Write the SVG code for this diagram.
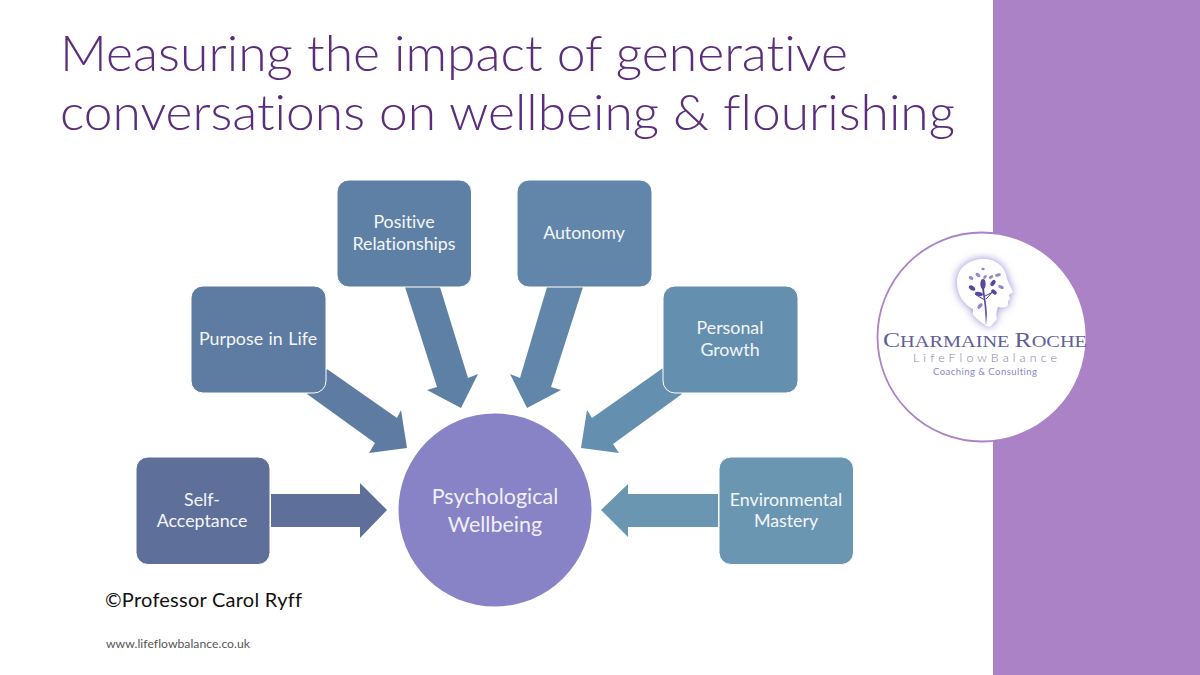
<svg xmlns="http://www.w3.org/2000/svg" width="1200" height="675" viewBox="0 0 1200 675">
<defs>
<style>
text{font-variant-ligatures:none}
.t{font-family:Lato,"Open Sans",sans-serif;font-weight:300;font-size:50px;fill:#5b2e7c}
.n{font-family:Lato,"Open Sans",sans-serif;font-size:17.800px;fill:#f4f6fb;text-anchor:middle}
.c{font-family:Lato,"Open Sans",sans-serif;font-size:21.500px;fill:#f0effa;text-anchor:middle}
.box{stroke:#fff;stroke-width:1}
.dk{fill:#55499f}
.lt{fill:#9089c8}
</style>
<filter id="glow" x="-30%" y="-30%" width="160%" height="160%"><feGaussianBlur stdDeviation="4.500"/></filter>
<linearGradient id="trunk" x1="0" y1="0" x2="0" y2="1"><stop offset="0" stop-color="#463a8e"/><stop offset="0.7" stop-color="#6a60ad"/><stop offset="1" stop-color="#ffffff"/></linearGradient>
<path id="head" d="M957,282 C957,267 970,259 984,259 C997,259 1006,268 1007,279 L1013,292 L1009,295 L1010,299 L1008,301 L1008,305 C1006,308 1002,308 998,307 C996,312 996,316 997,319 L990,327 C984,325 978,320 973,315 L973,309 C963,304 957,294 957,282 Z"/>
</defs>
<rect width="1200" height="675" fill="#fff"/>
<rect x="993" y="0" width="207" height="675" fill="#ab82c5"/>
<g id="title">
<text class="t" x="60" y="70.500" textLength="788" lengthAdjust="spacingAndGlyphs">Measuring the impact of generative</text>
<text class="t" x="60" y="130" textLength="895" lengthAdjust="spacingAndGlyphs">conversations on wellbeing &amp; flourishing</text>
</g>
<g id="connectors">
<polygon fill="#5e7099" points="271,494 360,494 360,483 387,510 360,538 360,527 271,527"/>
<polygon fill="#5e7ca1" points="327,369 397,418 401,410 407,448 369,453 375,443 307,394"/>
<polygon fill="#5f80a5" points="405,287 440,287 468,378 478,374 461,408 427,390 437,387"/>
<polygon fill="#6186aa" points="547,287 583,287 551,387 561,390 527,408 510,374 520,378"/>
<polygon fill="#658fae" points="663,368 592,418 587,410 581,448 619,453 613,444 682,394"/>
<polygon fill="#6a96b2" points="718,494 628,494 628,484 601,510 628,537 628,527 718,527"/>
</g>
<g id="self-acceptance"><rect class="box" x="136" y="457" width="134" height="107.500" rx="12" fill="#5e7099"/><text class="n" x="202" y="505.500">Self-</text><text class="n" x="202" y="527">Acceptance</text></g>
<g id="purpose-in-life"><rect class="box" x="191" y="286" width="135" height="107" rx="12" fill="#5e7ba1"/><text class="n" x="258" y="345" word-spacing="1">Purpose in Life</text></g>
<g id="positive-relationships"><rect class="box" x="337" y="180" width="134.500" height="107" rx="12" fill="#5f80a5"/><text class="n" x="404" y="228">Positive</text><text class="n" x="404" y="249.500">Relationships</text></g>
<g id="autonomy"><rect class="box" x="517" y="180" width="135" height="107" rx="12" fill="#6186aa"/><text class="n" x="584" y="239">Autonomy</text></g>
<g id="personal-growth"><rect class="box" x="663" y="286" width="135" height="107" rx="12" fill="#658fae"/><text class="n" x="730" y="334">Personal</text><text class="n" x="730" y="355.500">Growth</text></g>
<g id="environmental-mastery"><rect class="box" x="719" y="457" width="134.500" height="107.500" rx="12" fill="#6a96b2"/><text class="n" x="786" y="505.500">Environmental</text><text class="n" x="786" y="527">Mastery</text></g>
<g id="psychological-wellbeing"><circle cx="495" cy="510" r="96.500" fill="#8882c6"/><text class="c" x="495" y="504">Psychological</text><text class="c" x="495" y="531.500">Wellbeing</text></g>
<g id="logo">
<circle cx="982" cy="337" r="104.500" fill="#fff" stroke="#ab82c5" stroke-width="1.800"/>
<use href="#head" fill="#8f86d0" filter="url(#glow)"/>
<use href="#head" fill="#fff"/>
<path d="M984,288 C985,300 988,310 987,326 L985,326 C986,312 984,300 982,288 Z" fill="url(#trunk)"/>
<path d="M985,300 C981,298 978,296 975,294 M986,299 C989,296 991,294 993,290 M985,296 L993,292" stroke="#463a8e" stroke-width="1" fill="none"/>
<ellipse class="dk" cx="983" cy="284" rx="2.600" ry="5"/>
<ellipse class="dk" cx="972" cy="288" rx="3.500" ry="2.200" transform="rotate(35 972 288)"/>
<ellipse class="dk" cx="979" cy="294" rx="4" ry="2" transform="rotate(10 979 294)"/>
<ellipse class="dk" cx="993" cy="283" rx="3.500" ry="2" transform="rotate(-55 993 283)"/>
<ellipse class="dk" cx="994" cy="292" rx="3.200" ry="1.900" transform="rotate(40 994 292)"/>
<ellipse class="lt" cx="1001" cy="287" rx="3" ry="1.700" transform="rotate(25 1001 287)"/>
<ellipse class="lt" cx="971" cy="278" rx="2.500" ry="1.600" transform="rotate(25 971 278)"/>
<ellipse class="lt" cx="978" cy="275" rx="2.800" ry="1.700" transform="rotate(40 978 275)"/>
<ellipse class="lt" cx="985" cy="277" rx="2.200" ry="1.400" transform="rotate(-50 985 277)"/>
<ellipse class="lt" cx="991" cy="277" rx="2.500" ry="1.500" transform="rotate(-30 991 277)"/>
<ellipse class="lt" cx="998" cy="275" rx="3" ry="1.600" transform="rotate(-15 998 275)"/>
<ellipse class="lt" cx="983" cy="269" rx="1.700" ry="1.200"/>
<ellipse class="lt" cx="980" cy="306" rx="3.300" ry="1.800" transform="rotate(-50 980 306)"/>
<text x="883" y="347" font-family="Liberation Serif,serif" font-size="17.500" fill="#5f5f98" textLength="204" lengthAdjust="spacingAndGlyphs"><tspan font-size="22">C</tspan>HARMAINE <tspan font-size="22">R</tspan>OCHE</text>
<text x="913" y="362" font-family="Lato,sans-serif" font-weight="300" font-size="12.500" fill="#85859a" textLength="144">LifeFlowBalance</text>
<text x="933" y="374.500" font-family="Lato,sans-serif" font-size="9.500" fill="#8a86c4" textLength="104">Coaching &amp; Consulting</text>
</g>
<g id="footer">
<text x="105" y="606.500" font-family="Lato,sans-serif" font-size="20" fill="#111" textLength="197" lengthAdjust="spacing">©Professor Carol Ryff</text>
<text x="106" y="647.500" font-family="Lato,sans-serif" font-size="12.200" fill="#555" textLength="144">www.lifeflowbalance.co.uk</text>
</g>
</svg>
